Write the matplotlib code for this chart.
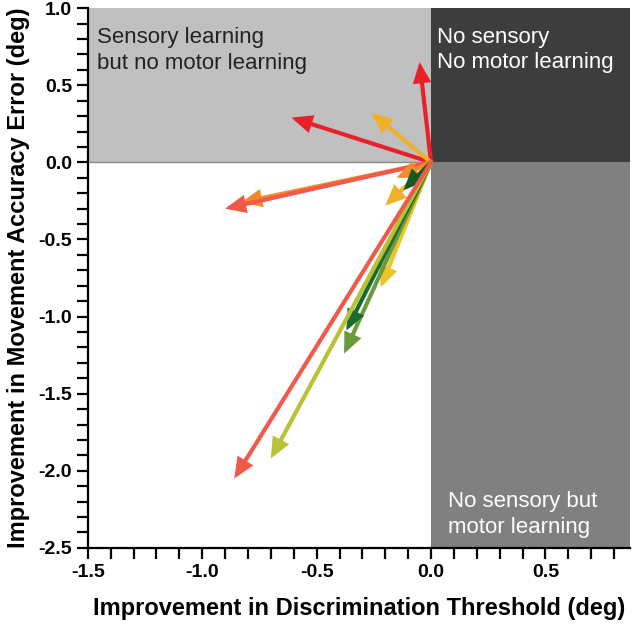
import matplotlib.pyplot as plt
from matplotlib.patches import Rectangle
from matplotlib.ticker import MultipleLocator

plt.rcParams['font.family'] = ['Liberation Sans', 'DejaVu Sans']

# arrow tips (discrimination improvement, movement error improvement)
tip_x = [-0.05, -0.61, -0.26, -0.83, -0.90, -0.15, -0.20, -0.12, -0.22, -0.38, -0.37, -0.70, -0.86]
tip_y = [0.65, 0.29, 0.32, -0.26, -0.30, -0.10, -0.28, -0.18, -0.81, -1.24, -1.09, -1.92, -2.05]
colors = ['#e8202a', '#e8202a', '#f0b02a', '#f58a2a', '#ef5a4a', '#f58a2a', '#f0b02a',
          '#135a25', '#ecc52a', '#6a9a3a', '#1d6a30', '#b9c234', '#ef5a4a']

xmin, xmax = -1.5, 0.87
ymin, ymax = -2.5, 1.0

fig = plt.figure(figsize=(6.32, 6.29), dpi=100)
ax = fig.add_axes([0.139, 0.129, 0.858, 0.858])
ax.set_xlim(xmin, xmax)
ax.set_ylim(ymin, ymax)

ax.add_patch(Rectangle((xmin, 0), -xmin, ymax, facecolor='#c0c0c0', edgecolor='none', zorder=0))
ax.add_patch(Rectangle((0, 0), xmax, ymax, facecolor='#3d3d3d', edgecolor='none', zorder=0))
ax.add_patch(Rectangle((0, ymin), xmax, -ymin, facecolor='#808080', edgecolor='none', zorder=0))
ax.plot([xmin, 0], [0, 0], color='#8a8a8a', lw=1, zorder=1)

for x, y, c in zip(tip_x, tip_y, colors):
    ax.annotate('', xy=(x, y), xytext=(0, 0),
                arrowprops=dict(arrowstyle='-|>,head_length=0.5,head_width=0.22',
                                color=c, lw=3, mutation_scale=20,
                                shrinkA=0, shrinkB=0, joinstyle='miter'),
                zorder=3)

ax.text(-1.46, 0.88, 'Sensory learning\nbut no motor learning', fontsize=16,
        color='#222222', va='top', ha='left', linespacing=1.35)
ax.text(0.025, 0.88, 'No sensory\nNo motor learning', fontsize=16,
        color='white', va='top', ha='left', linespacing=1.3)
ax.text(0.075, -2.13, 'No sensory but\nmotor learning', fontsize=16,
        color='white', va='top', ha='left', linespacing=1.3)

for s in ['top', 'right']:
    ax.spines[s].set_visible(False)
for s in ['left', 'bottom']:
    ax.spines[s].set_linewidth(1.6)

ax.xaxis.set_major_locator(MultipleLocator(0.5))
ax.xaxis.set_minor_locator(MultipleLocator(0.1))
ax.yaxis.set_major_locator(MultipleLocator(0.5))
ax.yaxis.set_minor_locator(MultipleLocator(0.1))
ax.tick_params(which='major', length=8, width=1.6, labelsize=14)
ax.tick_params(which='minor', length=8, width=1.6)
ax.xaxis.set_major_formatter(plt.FuncFormatter(lambda v, p: f'{v:.1f}'))
ax.yaxis.set_major_formatter(plt.FuncFormatter(lambda v, p: f'{v:.1f}'))
for lab in ax.get_xticklabels() + ax.get_yticklabels():
    lab.set_fontweight('bold')

ax.set_xlabel('Improvement in Discrimination Threshold (deg)', fontsize=17,
              fontweight='bold', labelpad=12)
ax.set_ylabel('Improvement in Movement Accuracy Error (deg)', fontsize=17,
              fontweight='bold', labelpad=6)

fig.savefig('out.png', dpi=100)
